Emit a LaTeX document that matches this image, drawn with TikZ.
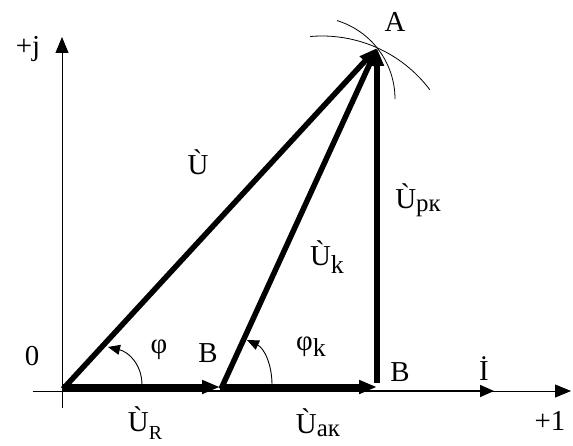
\documentclass[tikz,border=0pt]{standalone}
\usepackage{fontspec}
\setmainfont{Liberation Serif}
\usetikzlibrary{arrows.meta}
\newcommand{\subsz}[3]{\raisebox{-#2bp}{\fontsize{#1}{#1}\selectfont #3}}
\tikzset{
  axisline/.style={line width=0.9bp,-{Triangle[length=16bp,width=13bp]}},
  vec/.style={line width=5.5bp,-{Triangle[length=18bp,width=13bp]}},
  thinarc/.style={line width=0.8bp},
  anglearc/.style={line width=0.9bp,-{Triangle[length=12bp,width=10bp]}},
  lbl/.style={inner sep=0pt,font=\fontsize{29}{31}\selectfont},
}
\begin{document}
\begin{tikzpicture}[x=1bp,y=-1bp]
\useasboundingbox (0,0) rectangle (573,446);
% points
\coordinate (O) at (63,389);
\coordinate (Oh) at (63,387);
\coordinate (B1) at (220,387);
\coordinate (B1s) at (221,389);
\coordinate (B2) at (377,387);
\coordinate (A) at (377,48);
\coordinate (Ab) at (377,383);
\coordinate (xs) at (33,391);
\coordinate (xe) at (571,391);
\coordinate (ys) at (62,408);
\coordinate (ye) at (62,37);
\coordinate (Ii) at (63,391);
\coordinate (Ie) at (494,391);
% axes
\draw[axisline] (xs) -- (xe);
\draw[axisline] (ys) -- (ye);
\draw[line width=1.5bp,-{Triangle[length=14bp,width=12bp]}] (Ii) -- (Ie);
% arcs at A
\draw[thinarc] (313,99) ++(-73:82) arc[start angle=-73,end angle=0,radius=82];
\draw[thinarc] (322,171) ++(-95:135) arc[start angle=-95,end angle=-37,radius=135];
% vectors
\draw[vec] (Oh) -- (B1);
\draw[vec] (B1) -- (B2);
\draw[vec] (Ab) -- (A);
\draw[vec] (O) -- (A);
\draw[vec] (B1s) -- (A);
% angle arcs
\draw[anglearc] (142,385) .. controls (142,365) and (129,352) .. (108,347);
\draw[anglearc] (272,385) .. controls (272,364) and (264,348) .. (247,340);
% labels
\node[lbl] (lj) at (28,49) {+j};
\node[lbl,anchor=base] (lA) at (395,32) {A};
\node[lbl,anchor=base] (l0) at (32,365) {0};
\node[lbl] (lphi) at (159,350) {φ};
\node[lbl,anchor=base] (lB1) at (208,362) {B};
\node[lbl] (lphik) at (311,347) {φ\subsz{26}{6}{k}};
\node[lbl,anchor=base] (lB2) at (400,381) {B};
\node[lbl,anchor=base] (lI) at (484,380) {İ};
\node[lbl,anchor=base] (l1) at (550,430) {+1};
\node[lbl] (lUR) at (145,423) {Ù\subsz{20}{8}{R}};
\node[lbl] (lUak) at (318,423) {Ù\subsz{25}{3}{ак}};
\node[lbl] (lU) at (198,162) {Ù};
\node[lbl] (lUk) at (327,257) {Ù\subsz{26}{8}{k}};
\node[lbl] (lUrk) at (418,200) {Ù\subsz{25}{3}{рк}};
\end{tikzpicture}
\end{document}
